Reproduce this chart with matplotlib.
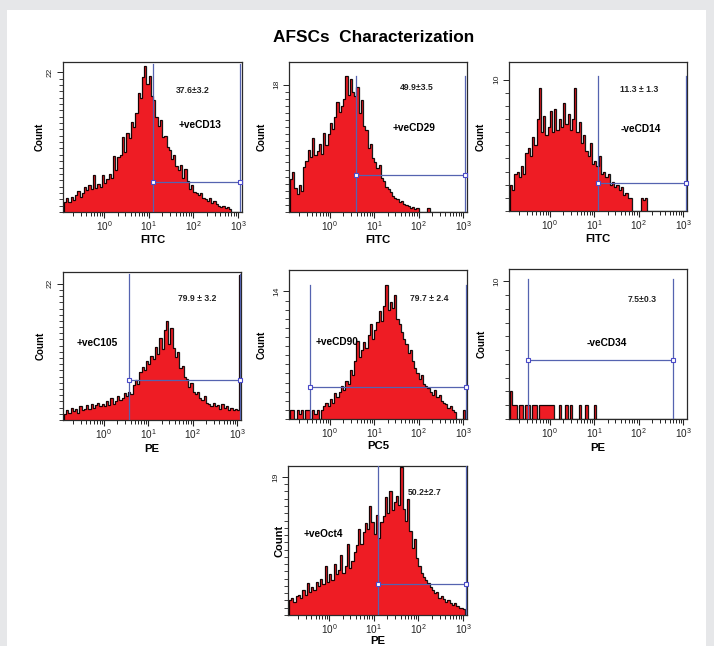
import numpy as np
import matplotlib
matplotlib.use("Agg")
import matplotlib.pyplot as plt
from matplotlib.patches import Rectangle
from matplotlib.ticker import FixedLocator, FixedFormatter, NullFormatter

plt.rcParams['font.family'] = ['Liberation Sans', 'DejaVu Sans']
plt.rcParams['mathtext.fontset'] = 'custom'
plt.rcParams['mathtext.rm'] = 'Liberation Sans'
plt.rcParams['mathtext.it'] = 'Liberation Sans:italic'
plt.rcParams['mathtext.bf'] = 'Liberation Sans:bold'

# ---------------- data ----------------
TITLE = "AFSCs  Characterization"
BIN_START_LOG = -0.9      # first bin edge (log10 of fluorescence)
BIN_WIDTH_LOG = 0.05      # bin width in decades

cd13 = [1.5, 2.2, 1.6, 2.4, 1.9, 2.6, 3.3, 2.4, 3.0, 4.0,
        3.4, 4.2, 3.6, 5.8, 3.8, 4.4, 3.9, 5.9, 4.6, 5.2,
        6.0, 5.4, 8.8, 6.6, 8.6, 9.0, 11.8, 9.4, 12.4, 11.6,
        14.2, 13.4, 15.6, 18.8, 18.0, 21.2, 23.0, 20.2, 21.4, 18.2,
        17.6, 15.0, 13.6, 14.4, 11.8, 12.0, 10.2, 9.8, 8.4, 9.0,
        7.2, 6.6, 7.4, 5.4, 6.8, 4.8, 3.6, 4.2, 3.2, 3.0,
        2.6, 3.0, 2.2, 2.0, 1.8, 2.2, 1.4, 1.8, 1.2, 1.0,
        0.8, 1.0, 0.6, 0.8, 0.4, 0, 0, 0, 0, 0]
cd29 = [4.6, 5.6, 3.4, 2.6, 3.8, 3.0, 6.4, 7.2, 8.8, 7.8,
        10.4, 8.0, 8.6, 9.6, 8.2, 11.2, 9.4, 11.0, 12.6, 11.8,
        13.4, 15.6, 14.2, 15.0, 16.0, 19.2, 16.6, 18.8, 17.0, 16.4,
        17.6, 14.0, 15.8, 12.2, 11.6, 9.0, 9.6, 7.6, 7.0, 6.2,
        6.6, 4.8, 4.4, 3.6, 3.2, 2.8, 2.2, 2.0, 1.8, 1.4,
        1.6, 1.2, 1.0, 0.8, 0.6, 0.7, 0.4, 0.5, 0, 0,
        0, 0, 0.5, 0, 0, 0, 0, 0, 0, 0,
        0, 0, 0, 0, 0, 0, 0, 0, 0, 0]
cd14 = [2.0, 1.6, 2.8, 3.0, 2.6, 3.4, 2.8, 4.4, 4.8, 4.2,
        5.6, 5.0, 7.0, 9.4, 6.0, 7.2, 5.8, 6.4, 7.6, 6.0,
        7.8, 6.2, 7.0, 6.4, 8.2, 6.6, 7.4, 6.2, 7.0, 9.4,
        6.0, 6.8, 5.2, 5.8, 4.6, 4.2, 5.2, 3.6, 3.8, 3.4,
        4.2, 2.8, 3.0, 2.6, 2.8, 2.0, 2.2, 1.8, 2.0, 1.6,
        1.8, 1.2, 1.4, 1.0, 1.0, 0, 0, 0, 0, 1.0,
        0.8, 1.0, 0, 0, 0, 0, 0, 0, 0, 0,
        0, 0, 0, 0, 0, 0, 0, 0, 0, 0]
cd105 = [1.0, 1.6, 1.2, 2.0, 1.4, 1.8, 1.2, 2.2, 1.6, 1.8,
         2.4, 1.8, 2.6, 2.0, 2.4, 2.8, 2.2, 2.6, 2.2, 3.0,
         2.4, 3.6, 2.6, 3.0, 3.8, 3.2, 3.6, 4.4, 3.8, 4.6,
         4.2, 5.6, 6.4, 5.8, 7.8, 8.6, 8.0, 9.6, 9.0, 10.4,
         9.8, 11.8, 10.6, 13.2, 11.4, 14.6, 16.0, 12.2, 14.8, 11.6,
         10.2, 11.0, 8.4, 8.8, 7.0, 6.6, 5.4, 6.0, 4.6, 4.2,
         4.6, 3.6, 3.2, 3.8, 2.8, 2.6, 2.2, 2.8, 2.2, 2.4,
         1.8, 2.6, 2.0, 2.2, 1.6, 2.0, 1.6, 1.8, 1.6, 23.4]
cd90 = [1.0, 1.0, 0, 1.0, 0.6, 1.0, 0, 1.0, 1.0, 0,
        1.0, 0.5, 1.0, 0, 1.0, 1.4, 1.8, 1.4, 2.2, 1.8,
        2.8, 2.4, 3.0, 3.6, 3.2, 4.2, 3.8, 5.4, 4.8, 6.4,
        8.6, 6.8, 7.6, 8.4, 7.8, 9.2, 10.4, 8.8, 9.8, 10.6,
        11.8, 10.8, 12.4, 14.7, 12.0, 12.8, 12.2, 13.6, 11.0, 10.4,
        9.6, 8.8, 8.2, 7.2, 7.6, 6.4, 5.6, 5.0, 4.4, 4.8,
        3.8, 3.6, 3.4, 3.0, 2.6, 3.2, 2.4, 2.6, 2.0, 1.8,
        1.6, 1.2, 1.4, 1.0, 0.8, 0, 0, 0, 1.0, 0]
cd34 = [2.0, 1.0, 1.0, 0, 1.0, 1.0, 0, 1.0, 1.0, 0,
        1.0, 1.0, 0, 1.0, 1.0, 1.0, 1.0, 1.0, 1.0, 1.0,
        0, 0, 1.0, 0, 0, 1.0, 0, 1.0, 0, 0,
        0, 1.0, 0, 0, 1.0, 0, 0, 0, 1.0, 0,
        0, 0, 0, 0, 0, 0, 0, 0, 0, 0,
        0, 0, 0, 0, 0, 0, 0, 0, 0, 0,
        0, 0, 0, 0, 0, 0, 0, 0, 0, 0,
        0, 0, 0, 0, 0, 0, 0, 0, 0, 0]
oct4 = [2.0, 2.4, 1.8, 2.6, 2.8, 2.4, 3.4, 2.8, 4.4, 3.2,
        3.8, 3.4, 4.6, 4.0, 5.0, 4.2, 6.8, 4.6, 5.6, 4.8,
        7.0, 5.6, 6.2, 8.2, 5.8, 6.8, 9.8, 6.4, 7.4, 8.6,
        9.6, 11.8, 9.8, 11.4, 12.6, 11.8, 15.0, 12.8, 11.2, 13.8,
        10.6, 12.8, 13.6, 16.2, 14.0, 17.0, 14.4, 15.6, 16.4, 15.2,
        20.4, 14.6, 13.0, 16.0, 11.6, 9.2, 10.4, 7.8, 6.8, 5.8,
        5.2, 4.8, 4.4, 3.8, 3.4, 3.0, 3.2, 2.4, 2.6, 2.2,
        1.8, 2.0, 1.6, 1.4, 1.6, 1.2, 0.9, 1.0, 0.8, 0]

histograms = [cd13, cd29, cd14, cd105, cd90, cd34, oct4]
markers = ["+veCD13", "+veCD29", "-veCD14", "+veC105", "+veCD90", "-veCD34", "+veOct4"]
channels = ["FITC", "FITC", "FITC", "PE", "PC5", "PE", "PE"]
stats = ["37.6\u00b13.2", "49.9\u00b13.5", "11.3 \u00b1 1.3", "79.9 \u00b1 3.2",
         "79.7 \u00b1 2.4", "7.5\u00b10.3", "50.2\u00b12.7"]
y_top_label = [22, 18, 10, 22, 14, 10, 19]
gate_low = [12.3, 3.9, 12.3, 3.6, 0.35, 0.33, 12.3]
gate_high = [1120, 1120, 1150, 1180, 1150, 600, 1150]
gate_level = [4.7, 5.3, 2.1, 6.45, 3.47, 4.3, 4.2]
x_major = [1, 10, 100, 1000]
x_major_labels = ["$10^{0}$", "$10^{1}$", "$10^{2}$", "$10^{3}$"]

# ---------------- layout ----------------
W, H = 714, 646
fig = plt.figure(figsize=(W / 100, H / 100), dpi=100, facecolor="#e6e7e9")
fig.add_artist(Rectangle((7 / W, 0), (706 - 7) / W, (646 - 10) / H,
                         transform=fig.transFigure, facecolor="white",
                         edgecolor="none", zorder=-5))

# axes boxes in pixels: left, right, top, bottom
boxes = [(63, 242, 62, 212), (289, 467, 62, 212), (509, 687, 62, 211),
         (63, 241, 272, 420), (289, 467, 270, 419), (509, 687, 269, 419),
         (288, 467, 466, 615)]
y_lim_top = [23.6, 21.2, 11.35, 23.9, 16.35, 10.9, 20.5]
gate_line_top = [23.3, 19.2, 10.3, 23.6, 14.7, 10.2, 20.5]
stat_pos = [(0.726, 0.813), (0.72, 0.827), (0.732, 0.813), (0.754, 0.824),
            (0.79, 0.81), (0.75, 0.80), (0.765, 0.82)]
marker_pos = [(0.765, 0.58), (0.704, 0.56), (0.743, 0.547), (0.19, 0.52),
              (0.27, 0.52), (0.55, 0.507), (0.196, 0.544)]
count_x = [-0.128, -0.151, -0.162, -0.128, -0.151, -0.152, -0.045]
count_size = [7, 7, 7, 7, 7, 7, 8]
# x-label vertical placement (pixels below the axis line) and anchor
xlab_dy = [28, 28, 28, 29, 27, 29, 30.5]
xlab_va = ["center", "center", "center", "center", "center", "center", "bottom"]

RED = "#ee1c24"
GATE = "#5563b0"
XLIM = (10 ** -0.92, 10 ** 3.09)

minor_x = [m * 10.0 ** d for d in (-1, 0, 1, 2) for m in range(2, 10)]

for k, vals in enumerate(histograms):
    l, r, t, b = boxes[k]
    ax = fig.add_axes([l / W, (H - b) / H, (r - l) / W, (b - t) / H])
    ax.set_xscale("log")
    n = len(vals)
    edges = 10 ** (BIN_START_LOG + BIN_WIDTH_LOG * np.arange(n + 1))
    v = np.asarray(vals, dtype=float)
    ax.stairs(v, edges, fill=True, color=RED, zorder=2)
    ax.stairs(v, edges, color="black", lw=0.9, alpha=0.9, zorder=3)

    # gate
    top = gate_line_top[k]
    ax.plot([gate_low[k], gate_low[k]], [0, top], color=GATE, lw=0.9, zorder=4)
    ax.plot([gate_high[k], gate_high[k]], [0, top], color=GATE, lw=0.9, zorder=4)
    ax.plot([gate_low[k], gate_high[k]], [gate_level[k], gate_level[k]],
            color=GATE, lw=0.9, zorder=4)
    ax.plot([gate_low[k], gate_high[k]], [gate_level[k], gate_level[k]],
            ls="none", marker="s", ms=3.2, mfc="white", mec="#4a4ac8", mew=0.8,
            zorder=5, clip_on=False)

    ax.set_xlim(*XLIM)
    ax.set_ylim(0, y_lim_top[k])

    ax.xaxis.set_major_locator(FixedLocator(x_major))
    ax.xaxis.set_major_formatter(FixedFormatter(x_major_labels))
    ax.xaxis.set_minor_locator(FixedLocator(minor_x))
    ax.xaxis.set_minor_formatter(NullFormatter())
    ax.tick_params(axis="x", which="major", direction="out", length=4.5,
                   width=0.8, labelsize=7.2, pad=1.0, colors="#222222")
    ax.tick_params(axis="x", which="minor", direction="out", length=3,
                   width=0.7, colors="#222222")

    ytop = y_top_label[k]
    ax.yaxis.set_major_locator(FixedLocator([ytop]))
    ax.yaxis.set_major_formatter(FixedFormatter([str(ytop)]))
    ax.yaxis.set_minor_locator(FixedLocator(list(range(0, ytop))))
    ax.tick_params(axis="y", which="major", direction="out", length=4,
                   width=0.7, labelsize=6, pad=2.5, colors="#222222")
    ax.tick_params(axis="y", which="minor", direction="out", length=3,
                   width=0.6, colors="#222222")
    for lab in ax.get_yticklabels():
        lab.set_rotation(90)
        lab.set_va("center")

    for s in ax.spines.values():
        s.set_color("#2a2a2a")
        s.set_linewidth(0.9)

    ax.text(*stat_pos[k], stats[k], transform=ax.transAxes, ha="center",
            va="center", fontsize=6.2, fontweight="bold", color="#222222")
    ax.text(*marker_pos[k], markers[k], transform=ax.transAxes, ha="center",
            va="center", fontsize=7.3, fontweight="bold", color="black")
    ax.text(0.5, -xlab_dy[k] / (b - t), channels[k], transform=ax.transAxes,
            ha="center", va=xlab_va[k], fontsize=8.2, fontweight="bold")
    ax.text(count_x[k], 0.5, "Count", transform=ax.transAxes, ha="center",
            va="center", rotation=90, fontsize=count_size[k], fontweight="bold")

fig.text(374 / W, 1 - 37 / H, TITLE, ha="center", va="center",
         fontsize=12.4, fontweight="bold")

fig.savefig("out.png", dpi=100, facecolor=fig.get_facecolor())
